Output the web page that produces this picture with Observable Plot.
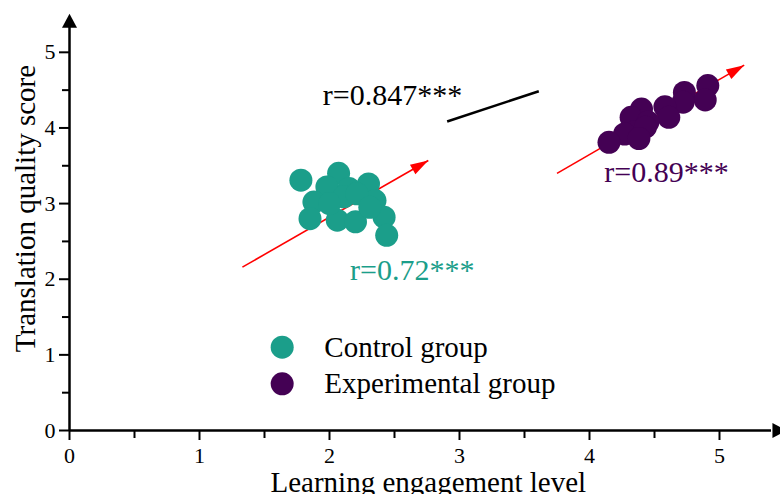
<!DOCTYPE html>
<html>
<head>
<meta charset="utf-8">
<script src="https://cdn.jsdelivr.net/npm/d3@7"></script>
<script src="https://cdn.jsdelivr.net/npm/@observablehq/plot@0.6"></script>
<style>
  html, body { margin: 0; padding: 0; background: #fff; }
  #chart svg { display: block; font-family: "Liberation Serif", "Times New Roman", serif; }
  #chart svg text { font-family: "Liberation Serif", "Times New Roman", serif; font-variant: normal; }
</style>
</head>
<body>
<div id="chart"></div>
<script>
// ---- data ----
const controlX = [1.78, 2.07, 1.98, 2.15, 2.30, 1.88, 2.35, 1.85, 2.06, 2.20, 2.42, 2.44, 2.11, 2.21, 2.00, 2.31];
const controlY = [3.31, 3.40, 3.22, 3.20, 3.26, 3.02, 3.04, 2.80, 2.78, 2.76, 2.82, 2.58, 3.09, 3.13, 3.00, 2.95];
const expX = [4.91, 4.73, 4.89, 4.72, 4.58, 4.61, 4.40, 4.32, 4.45, 4.35, 4.27, 4.15, 4.43, 4.38];
const expY = [4.56, 4.47, 4.37, 4.34, 4.28, 4.14, 4.25, 4.14, 4.08, 3.95, 3.92, 3.81, 4.01, 3.86];
const groups = ["Control group", "Experimental group"];
const rLabels = ["r=0.72***", "r=0.89***", "r=0.847***"];
const majorTicks = [0, 1, 2, 3, 4, 5];
const minorTicks = [0.5, 1.5, 2.5, 3.5, 4.5];
// trend arrows (start -> tip) and overall line, in data units
const trendControl = {x1: 1.33, y1: 2.16, x2: 2.76, y2: 3.57};
const trendExp = {x1: 3.75, y1: 3.40, x2: 5.19, y2: 4.83};
const overallLine = {x1: 2.905, y1: 4.085, x2: 3.61, y2: 4.486};

// ---- styling ----
const TEAL = "#1b9e8a", PURPLE = "#440154";
const FONT = "Liberation Serif, Times New Roman, serif";

const base = {
  width: 780, height: 494,
  marginLeft: 69, marginRight: 9, marginTop: 14, marginBottom: 64,
  x: {domain: [0, 5.4]},
  y: {domain: [0, 5.5]}
};

// probe the scales to orient arrowheads in screen space
const probe = Plot.plot({...base, marks: [Plot.dot([{x: 0, y: 0}], {x: "x", y: "y"})]});
const sx = probe.scale("x"), sy = probe.scale("y");
function angle(a) {
  const dx = sx.apply(a.x2) - sx.apply(a.x1);
  const dy = sy.apply(a.y2) - sy.apply(a.y1);
  return Math.atan2(dx, -dy) * 180 / Math.PI;
}
function head(len, wid) {
  return {draw(ctx) { ctx.moveTo(0, 0); ctx.lineTo(-wid / 2, len); ctx.lineTo(wid / 2, len); ctx.closePath(); }};
}

const control = controlX.map((x, i) => ({x, y: controlY[i]}));
const experimental = expX.map((x, i) => ({x, y: expY[i]}));
const arrows = [trendControl, trendExp];
const fmt = d3.format("d");

const plot = Plot.plot({
  ...base,
  style: {fontFamily: FONT, color: "#000", background: "#fff", overflow: "visible"},
  marks: [
    // axes
    Plot.axisX(majorTicks, {tickSize: 10, tickPadding: 7, fontSize: 22, fontFamily: FONT, tickFormat: fmt, strokeWidth: 2, label: null}),
    Plot.axisX(minorTicks, {tickSize: 8, tickFormat: () => "", strokeWidth: 2, label: null}),
    Plot.axisY(majorTicks, {tickSize: 10, tickPadding: 4, fontSize: 22, fontFamily: FONT, tickFormat: fmt, strokeWidth: 2, label: null}),
    Plot.axisY(minorTicks, {tickSize: 7, tickFormat: () => "", strokeWidth: 2, label: null}),
    Plot.ruleY([0], {x1: 0, x2: 5.4, stroke: "#000", strokeWidth: 2.5}),
    Plot.ruleX([0], {y1: 0, y2: 5.35, stroke: "#000", strokeWidth: 2.5}),
    Plot.dot([{x: 0, y: 5.51}], {x: "x", y: "y", symbol: head(14, 15), fill: "#000", stroke: null, r: 6}),
    Plot.dot([{x: 5.515, y: 0}], {x: "x", y: "y", symbol: head(14, 15), fill: "#000", stroke: null, r: 6, rotate: 90}),
    // axis titles
    Plot.text(["Translation quality score"], {x: 0, y: 2.935, dx: -44, rotate: -90, fontSize: 29, fontFamily: FONT, fill: "#000", lineAnchor: "middle"}),
    Plot.text(["Learning engagement level"], {x: 2.76, y: 0, dy: 52, fontSize: 29, fontFamily: FONT, fill: "#000", lineAnchor: "middle"}),
    // trend arrows
    Plot.link(arrows, {x1: "x1", y1: "y1", x2: "x2", y2: "y2", stroke: "#ff0000", strokeWidth: 1.6}),
    Plot.dot(arrows, {x: "x2", y: "y2", symbol: head(18, 11), fill: "#ff0000", stroke: null, r: 6, rotate: d => angle(d)}),
    Plot.link([overallLine], {x1: "x1", y1: "y1", x2: "x2", y2: "y2", stroke: "#000", strokeWidth: 2.5}),
    // points
    Plot.dot(control, {x: "x", y: "y", r: 11.5, fill: TEAL, stroke: null}),
    Plot.dot(experimental, {x: "x", y: "y", r: 11.5, fill: PURPLE, stroke: null}),
    // correlation labels
    Plot.text([rLabels[2]], {x: 2.485, y: 4.43, fontSize: 30, fontFamily: FONT, fill: "#000", lineAnchor: "middle"}),
    Plot.text([rLabels[0]], {x: 2.636, y: 2.115, fontSize: 30, fontFamily: FONT, fill: TEAL, lineAnchor: "middle"}),
    Plot.text([rLabels[1]], {x: 4.592, y: 3.411, fontSize: 30, fontFamily: FONT, fill: PURPLE, lineAnchor: "middle"}),
    // legend
    Plot.dot(groups, {x: 1.636, y: (d, i) => [1.101, 0.617][i], r: 11.5, fill: (d, i) => [TEAL, PURPLE][i], stroke: null}),
    Plot.text(groups, {x: 1.96, y: (d, i) => [1.101, 0.617][i], text: d => d, fontSize: 29, fontFamily: FONT, fill: "#000", textAnchor: "start", lineAnchor: "middle"})
  ]
});
document.getElementById("chart").appendChild(plot);
</script>
</body>
</html>
